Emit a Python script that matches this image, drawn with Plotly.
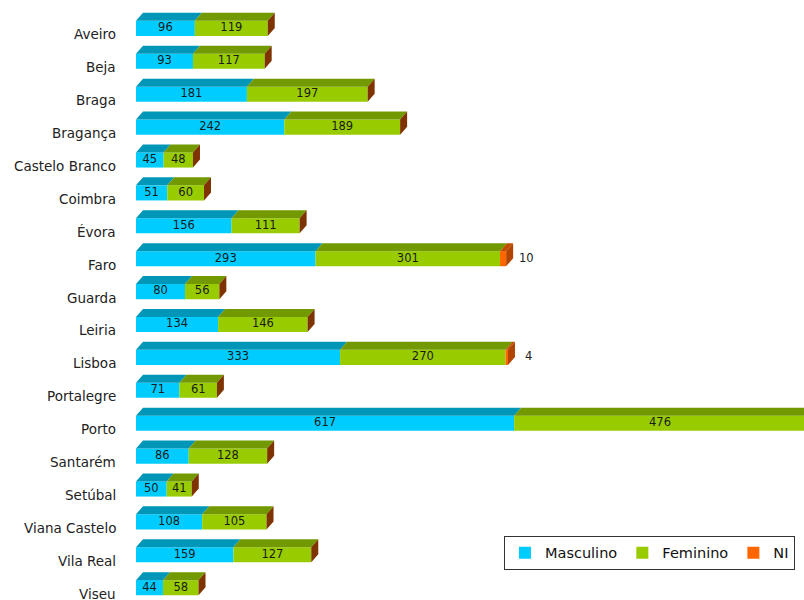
import plotly.graph_objects as go

# Distritos and counts by sex
distritos = ["Aveiro", "Beja", "Braga", "Bragança", "Castelo Branco", "Coimbra",
             "Évora", "Faro", "Guarda", "Leiria", "Lisboa", "Portalegre", "Porto",
             "Santarém", "Setúbal", "Viana Castelo", "Vila Real", "Viseu"]
masculino = [96, 93, 181, 242, 45, 51, 156, 293, 80, 134, 333, 71, 617, 86, 50, 108, 159, 44]
feminino = [119, 117, 197, 189, 48, 60, 111, 301, 56, 146, 270, 61, 476, 128, 41, 105, 127, 58]
ni = [0, 0, 0, 0, 0, 0, 0, 10, 0, 0, 4, 0, 0, 0, 0, 0, 0, 0]

# colours: front face, top face
C_M, C_M_TOP = "#00ccff", "#0096b8"
C_F, C_F_TOP = "#99cc00", "#739900"
C_N, C_N_TOP = "#ff6600", "#c04d00"
SIDE_F, SIDE_N = "#7f3300", "#b34400"

FONT = "DejaVu Sans"
HALF = 0.23     # half height of the front face (category units)
DX = 11.4       # depth offset along x (value units)
DY = 0.243      # depth offset along y (category units)

idx = list(range(len(distritos)))

fig = go.Figure()

# front faces
for name, vals, base_list, col in [
    ("Masculino", masculino, [0] * len(idx), C_M),
    ("Feminino", feminino, masculino, C_F),
    ("NI", ni, [m + f for m, f in zip(masculino, feminino)], C_N),
]:
    fig.add_trace(go.Bar(
        name=name, y=idx, x=vals, base=base_list, orientation="h",
        width=2 * HALF, marker=dict(color=col, line=dict(width=0)),
        hoverinfo="skip",
    ))


def top_faces(starts, ends):
    xs, ys = [], []
    for i, (a, b) in enumerate(zip(starts, ends)):
        if b <= a:
            continue
        yt = i - HALF
        xs += [a, b, b + DX, a + DX, a, None]
        ys += [yt, yt, yt - DY, yt - DY, yt, None]
    return xs, ys


ends_m = masculino
ends_f = [m + f for m, f in zip(masculino, feminino)]
ends_n = [e + n for e, n in zip(ends_f, ni)]

for starts, ends, col in [([0] * len(idx), ends_m, C_M_TOP),
                          (ends_m, ends_f, C_F_TOP),
                          (ends_f, ends_n, C_N_TOP)]:
    xs, ys = top_faces(starts, ends)
    fig.add_trace(go.Scatter(x=xs, y=ys, mode="lines", fill="toself",
                             fillcolor=col, line=dict(width=0, color=col),
                             showlegend=False, hoverinfo="skip"))

# right-hand side faces
for use_ni, col in [(False, SIDE_F), (True, SIDE_N)]:
    xs, ys = [], []
    for i, e in enumerate(ends_n):
        if (ni[i] > 0) != use_ni:
            continue
        yt, yb = i - HALF, i + HALF
        xs += [e, e, e + DX, e + DX, e, None]
        ys += [yt, yb, yb - DY, yt - DY, yt, None]
    fig.add_trace(go.Scatter(x=xs, y=ys, mode="lines", fill="toself",
                             fillcolor=col, line=dict(width=0, color=col),
                             showlegend=False, hoverinfo="skip"))

# value labels centred on each segment
fig.add_trace(go.Scatter(
    x=[m / 2 for m in masculino], y=idx, mode="text",
    text=[str(v) for v in masculino], textposition="middle center",
    textfont=dict(family=FONT, size=11.5, color="#1a1a1a"),
    showlegend=False, hoverinfo="skip", cliponaxis=True))
fig.add_trace(go.Scatter(
    x=[m + f / 2 for m, f in zip(masculino, feminino)], y=idx, mode="text",
    text=[str(v) for v in feminino], textposition="middle center",
    textfont=dict(family=FONT, size=11.5, color="#1a1a1a"),
    showlegend=False, hoverinfo="skip", cliponaxis=True))

annotations = []
# NI values beside the bar end
for i, v in enumerate(ni):
    if v > 0:
        annotations.append(dict(
            x=ends_n[i], y=i, xref="x", yref="y", text=str(v), showarrow=False,
            xanchor="center", xshift=20, yshift=1,
            font=dict(family=FONT, size=11.5, color="#222")))

# category labels
for i, name in enumerate(distritos):
    annotations.append(dict(
        x=0, y=i, xref="x", yref="y", text=name, showarrow=False,
        xanchor="right", xshift=-18, yshift=-6,
        font=dict(family=FONT, size=13.5, color="#222")))

fig.update_layout(
    width=804, height=600,
    margin=dict(l=136, r=0, t=0, b=0, autoexpand=False),
    paper_bgcolor="white", plot_bgcolor="white",
    barmode="overlay",
    xaxis=dict(range=[0, 1090], visible=False, fixedrange=True),
    yaxis=dict(range=[17.374, -0.863], visible=False, fixedrange=True),
    showlegend=True,
    legend=dict(orientation="h", x=0.9865, y=0.107, xanchor="right", yanchor="top",
                bordercolor="#333", borderwidth=1, bgcolor="white",
                font=dict(family=FONT, size=14.5, color="#111"),
                itemwidth=30, tracegroupgap=0),
    annotations=annotations,
)

fig.write_html("out.html")
